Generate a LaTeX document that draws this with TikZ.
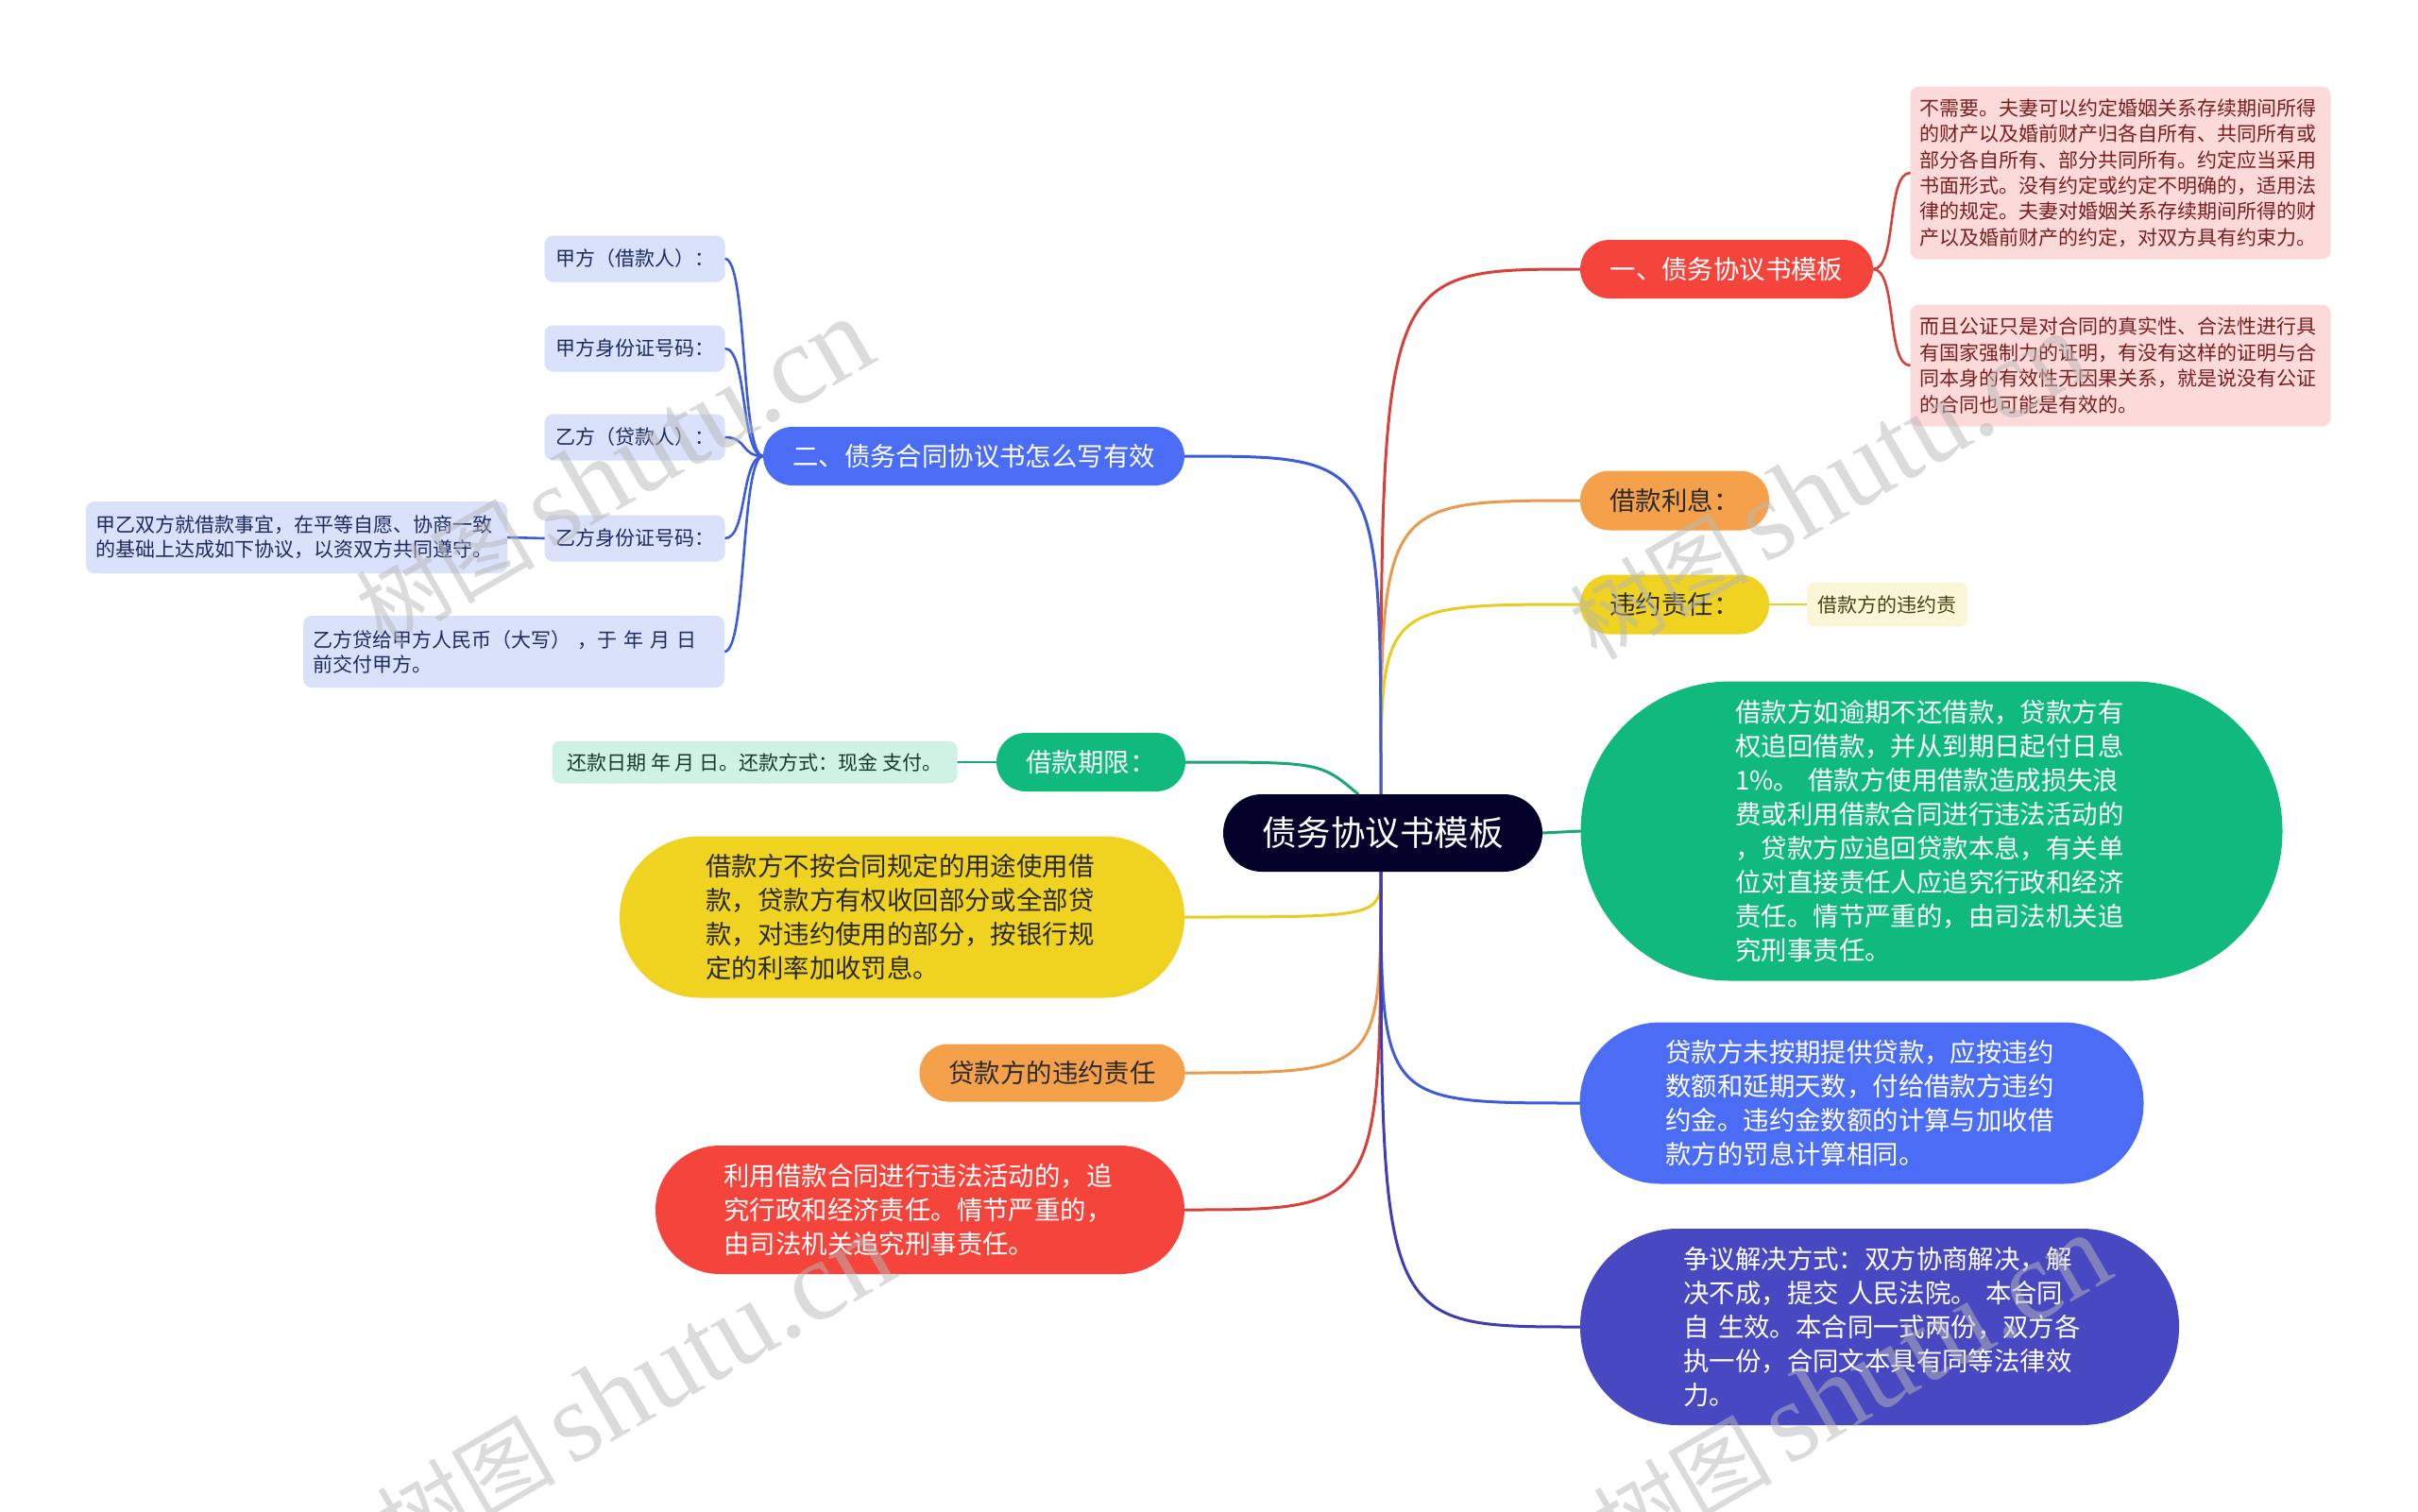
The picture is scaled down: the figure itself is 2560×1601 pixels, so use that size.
\documentclass[tikz,border=0pt]{standalone}
\usepackage{fontspec}
\setmainfont{Noto Sans CJK SC}
\newfontfamily\wmserif{Liberation Serif}
\newfontfamily\wmcjk{Noto Sans CJK SC}
\usetikzlibrary{positioning}
\definecolor{rootc}{HTML}{03022B}
\definecolor{redc}{HTML}{F5443B}
\definecolor{redl}{HTML}{D8403A}
\definecolor{orac}{HTML}{F5A04B}
\definecolor{oral}{HTML}{EA9A4A}
\definecolor{yelc}{HTML}{F0D220}
\definecolor{yell}{HTML}{EACB20}
\definecolor{grnc}{HTML}{10BA7C}
\definecolor{grnl}{HTML}{19A875}
\definecolor{bluc}{HTML}{4B6DF5}
\definecolor{blul}{HTML}{3D5CD8}
\definecolor{indc}{HTML}{4848C2}
\definecolor{indl}{HTML}{3E3EB0}
\definecolor{pinkf}{HTML}{FDDADA}
\definecolor{pinkt}{HTML}{7A1E1E}
\definecolor{ltyf}{HTML}{FBF6D8}
\definecolor{ltyt}{HTML}{4A4214}
\definecolor{ltgf}{HTML}{D0F2E5}
\definecolor{ltgt}{HTML}{183A2C}
\definecolor{ltbf}{HTML}{DAE1FB}
\definecolor{ltbt}{HTML}{1E2B60}
\definecolor{darkt}{HTML}{2A2A2A}
\definecolor{wmgray}{HTML}{B8B8B8}
\pgfdeclarelayer{bg}
\pgfsetlayers{bg,main}
\tikzset{
  base/.style={inner sep=0pt, outer sep=0pt, draw=none},
  pill/.style={base, rounded corners=#1},
  bigfont/.style={font=\fontsize{27.4}{36}\selectfont},
  smallfont/.style={font=\fontsize{21}{27.4}\selectfont},
  conn/.style={line width=3pt, line cap=round},
  bconn/.style={line width=2.6pt, line cap=round},
  subbox/.style={base, rounded corners=9pt, smallfont},
  bluebox/.style={subbox, fill=ltbf, text=ltbt, minimum width=191, minimum height=49},
  bigtext/.style={bigfont, text width=415, align=left},
  wm/.style={rotate=30, text=wmgray, opacity=0.5, inner sep=0pt}
}
\begin{document}
\begin{tikzpicture}[x=1pt,y=-1pt]
\useasboundingbox (0,0) rectangle (2560,1601);

% root
\node[pill=41pt, fill=rootc, text=white, minimum width=338, minimum height=82, font=\fontsize{36.5}{40}\selectfont] (root) at (1464,882) {债务协议书模板};

% right side
\node[pill=31pt, fill=redc, text=white, minimum width=310, minimum height=62, bigfont] (r1) at (1828,285) {一、债务协议书模板};
\node[subbox, fill=pinkf, text=pinkt, minimum width=445, minimum height=183, text width=425, align=left] (pA) at (2245,183) {不需要。夫妻可以约定婚姻关系存续期间所得\\的财产以及婚前财产归各自所有、共同所有或\\部分各自所有、部分共同所有。约定应当采用\\书面形式。没有约定或约定不明确的，适用法\\律的规定。夫妻对婚姻关系存续期间所得的财\\产以及婚前财产的约定，对双方具有约束力。};
\node[subbox, fill=pinkf, text=pinkt, minimum width=445, minimum height=129, text width=425, align=left] (pB) at (2245,387) {而且公证只是对合同的真实性、合法性进行具\\有国家强制力的证明，有没有这样的证明与合\\同本身的有效性无因果关系，就是说没有公证\\的合同也可能是有效的。};
\node[pill=31pt, fill=orac, text=darkt, minimum width=200, minimum height=63, bigfont] (r2) at (1773,530) {借款利息：};
\node[pill=31pt, fill=yelc, text=darkt, minimum width=200, minimum height=63, bigfont] (r3) at (1773,640) {违约责任：};
\node[subbox, fill=ltyf, text=ltyt, minimum width=170, minimum height=47] (r3c) at (1998,640) {借款方的违约责};
\node[pill=158pt, fill=grnc, text=white, minimum width=743, minimum height=317, bigtext] (r4) at (2045,880) {借款方如逾期不还借款，贷款方有\\权追回借款，并从到期日起付日息\\1\%。 借款方使用借款造成损失浪\\费或利用借款合同进行违法活动的\\，贷款方应追回贷款本息，有关单\\位对直接责任人应追究行政和经济\\责任。情节严重的，由司法机关追\\究刑事责任。};
\node[pill=85pt, fill=bluc, text=white, minimum width=597, minimum height=171, bigtext] (r5) at (1971,1168) {贷款方未按期提供贷款，应按违约\\数额和延期天数，付给借款方违约\\约金。违约金数额的计算与加收借\\款方的罚息计算相同。};
\node[pill=103pt, fill=indc, text=white, minimum width=634, minimum height=208, bigtext] (r6) at (1990,1405) {争议解决方式：双方协商解决，解\\决不成，提交 人民法院。 本合同\\自 生效。本合同一式两份，双方各\\执一份，合同文本具有同等法律效\\力。};

% left side
\node[pill=31pt, fill=bluc, text=white, minimum width=446, minimum height=62, bigfont] (l1) at (1031,483) {二、债务合同协议书怎么写有效};
\node[bluebox] (b1) at (672,274) {甲方（借款人）：};
\node[bluebox] (b2) at (672,369) {甲方身份证号码：};
\node[bluebox] (b3) at (672,463) {乙方（贷款人）：};
\node[bluebox] (b4) at (672,570) {乙方身份证号码：};
\node[subbox, fill=ltbf, text=ltbt, minimum width=446, minimum height=76, text width=425, align=left, font=\fontsize{21}{26}\selectfont] (b4c) at (314,569) {甲乙双方就借款事宜，在平等自愿、协商一致\\的基础上达成如下协议，以资双方共同遵守。};
\node[subbox, fill=ltbf, text=ltbt, minimum width=446, minimum height=76, text width=425, align=left, font=\fontsize{21}{26}\selectfont] (b5) at (544,690) {乙方贷给甲方人民币（大写） ，于 年 月 日\\前交付甲方。};
\node[pill=31pt, fill=grnc, text=white, minimum width=200, minimum height=62, bigfont] (l2) at (1155,807) {借款期限：};
\node[subbox, fill=ltgf, text=ltgt, minimum width=429, minimum height=45] (l2c) at (799,807) {还款日期 年 月 日。还款方式：现金 支付。};
\node[pill=85pt, fill=yelc, text=darkt, minimum width=598, minimum height=171, bigtext] (l3) at (955,971) {借款方不按合同规定的用途使用借\\款，贷款方有权收回部分或全部贷\\款，对违约使用的部分，按银行规\\定的利率加收罚息。};
\node[pill=30pt, fill=orac, text=darkt, minimum width=281, minimum height=61, bigfont] (l4) at (1114,1136) {贷款方的违约责任};
\node[pill=68pt, fill=redc, text=white, minimum width=560, minimum height=136, bigtext] (l5) at (974,1281) {利用借款合同进行违法活动的，追\\究行政和经济责任。情节严重的，\\由司法机关追究刑事责任。};

\coordinate (rtop) at ([xshift=-2pt]root.north);
\coordinate (rgt) at ([xshift=-26pt]root.north);
\coordinate (rbot) at ([xshift=-2pt]root.south);

% background and connectors
\begin{pgfonlayer}{bg}
\fill[white] (0,0) rectangle (2560,1601);
\draw[conn, redl] (rtop) .. controls (rtop |- r1.west) .. (r1.west);
\draw[conn, oral] (rtop) .. controls (rtop |- r2.west) .. (r2.west);
\draw[conn, yell] (rtop) .. controls (rtop |- r3.west) .. (r3.west);
\draw[conn, blul] (rtop) .. controls (rtop |- l1.east) .. (l1.east);
\draw[conn, grnl] (rgt) .. controls ([xshift=-40pt]rgt |- l2.east) .. (l2.east);
\draw[conn, grnl] (root.east) -- (r4.west);
\draw[conn, yell] (rbot) .. controls (rbot |- l3.east) .. (l3.east);
\draw[conn, oral] (rbot) .. controls (rbot |- l4.east) .. (l4.east);
\draw[conn, redl] (rbot) .. controls (rbot |- l5.east) .. (l5.east);
\draw[conn, blul] (rbot) .. controls (rbot |- r5.west) .. (r5.west);
\draw[conn, indl] (rbot) .. controls (rbot |- r6.west) .. (r6.west);
\draw[bconn, redl] (r1.east) .. controls +(26,0) and +(-26,0) .. (pA.west);
\draw[bconn, redl] (r1.east) .. controls +(26,0) and +(-26,0) .. (pB.west);
\draw[bconn, yell] (r3.east) -- (r3c.west);
\draw[bconn, grnl] (l2.west) -- (l2c.east);
\draw[bconn, blul] (l1.west) .. controls +(-24,0) and +(24,0) .. (b1.east);
\draw[bconn, blul] (l1.west) .. controls +(-24,0) and +(24,0) .. (b2.east);
\draw[bconn, blul] (l1.west) .. controls +(-24,0) and +(24,0) .. (b3.east);
\draw[bconn, blul] (l1.west) .. controls +(-24,0) and +(24,0) .. (b4.east);
\draw[bconn, blul] (l1.west) .. controls +(-24,0) and +(24,0) .. (b5.east);
\draw[bconn, blul] (b4.west) -- (b4c.east);
\end{pgfonlayer}

% watermarks
\node[wm] (wm1) at (650,500) {\fontsize{95}{100}\wmcjk 树图\,\fontsize{120}{120}\wmserif shutu.cn};
\node[wm] (wm2) at (1935,515) {\fontsize{95}{100}\wmcjk 树图\,\fontsize{120}{120}\wmserif shutu.cn};
\node[wm] (wm3) at (672,1470) {\fontsize{95}{100}\wmcjk 树图\,\fontsize{120}{120}\wmserif shutu.cn};
\node[wm] (wm4) at (1960,1470) {\fontsize{95}{100}\wmcjk 树图\,\fontsize{120}{120}\wmserif shutu.cn};
\end{tikzpicture}
\end{document}
